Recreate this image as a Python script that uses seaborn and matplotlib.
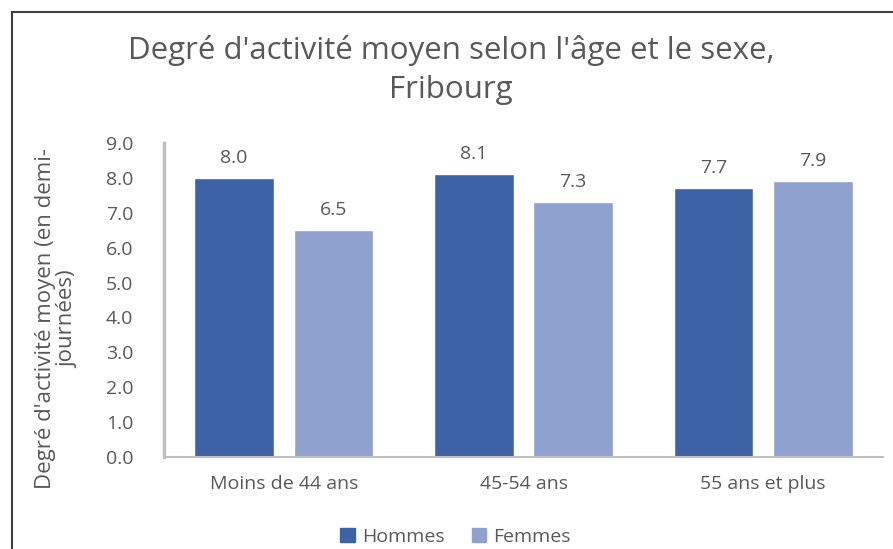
import pandas as pd
import matplotlib.pyplot as plt
import seaborn as sns
from matplotlib.patches import Rectangle

# Data
age_groups = ['Moins de 44 ans', '45-54 ans', '55 ans et plus']
hommes = [8.0, 8.1, 7.7]
femmes = [6.5, 7.3, 7.9]
sexes = ['Hommes', 'Femmes']
yticks = [0, 1, 2, 3, 4, 5, 6, 7, 8, 9]

df = pd.DataFrame({
    'age': age_groups * 2,
    'sexe': ['Hommes'] * 3 + ['Femmes'] * 3,
    'valeur': hommes + femmes,
})

sns.set_style('white')
plt.rcParams['font.family'] = ['Open Sans', 'DejaVu Sans']
text_color = '#595959'
palette = {'Hommes': '#3D63A6', 'Femmes': '#8FA2CF'}

fig = plt.figure(figsize=(8.93, 5.49), dpi=100)
ax = fig.add_axes([164 / 893, 92 / 549, 719 / 893, 314 / 549])

sns.barplot(data=df, x='age', y='valeur', hue='sexe', hue_order=sexes,
            order=age_groups, palette=palette, width=0.83, gap=0.2,
            saturation=1, ax=ax, legend=False)

for cont in ax.containers:
    ax.bar_label(cont, fmt='%.1f', padding=8, fontsize=14, color=text_color)

ax.set_ylim(0, 9)
ax.set_yticks(yticks)
ax.set_yticklabels([f'{v:.1f}' for v in yticks])
ax.set_xlim(-0.5, 2.5)
ax.set_xlabel('')
ax.set_ylabel("Degré d'activité moyen (en demi-\njournées)", fontsize=16,
              color=text_color, linespacing=1.05)
ax.yaxis.set_label_coords(-0.12, 0.44)
ax.tick_params(axis='both', length=0, labelsize=14, labelcolor=text_color)
ax.tick_params(axis='y', pad=22)
ax.tick_params(axis='x', pad=13)

for side in ['top', 'right']:
    ax.spines[side].set_visible(False)
ax.spines['left'].set_color('#BFBFBF')
ax.spines['left'].set_linewidth(2.5)
ax.spines['bottom'].set_color('#BFBFBF')
ax.spines['bottom'].set_linewidth(1.5)

fig.text(0.505, 1 - 70 / 549, "Degré d'activité moyen selon l'âge et le sexe,\nFribourg",
         ha='center', va='center', fontsize=22.5, color=text_color, linespacing=1.4)

# legend at the bottom
handles = [Rectangle((0, 0), 1, 1, color=palette[s]) for s in sexes]
fig.legend(handles, sexes, loc='center', bbox_to_anchor=(0.51, 1 - 537 / 549),
           ncol=2, frameon=False, fontsize=14, labelcolor=text_color,
           handlelength=0.75, handleheight=0.75, handletextpad=0.35, columnspacing=1.4)

# outer frame of the chart (cut on right and bottom)
fig.patches.append(Rectangle((12 / 893, -0.1), 1.1, 1 - 12 / 549 + 0.1,
                             transform=fig.transFigure, fill=False,
                             edgecolor='#404040', linewidth=1.5, clip_on=False))

plt.savefig('out.png', dpi=100)
